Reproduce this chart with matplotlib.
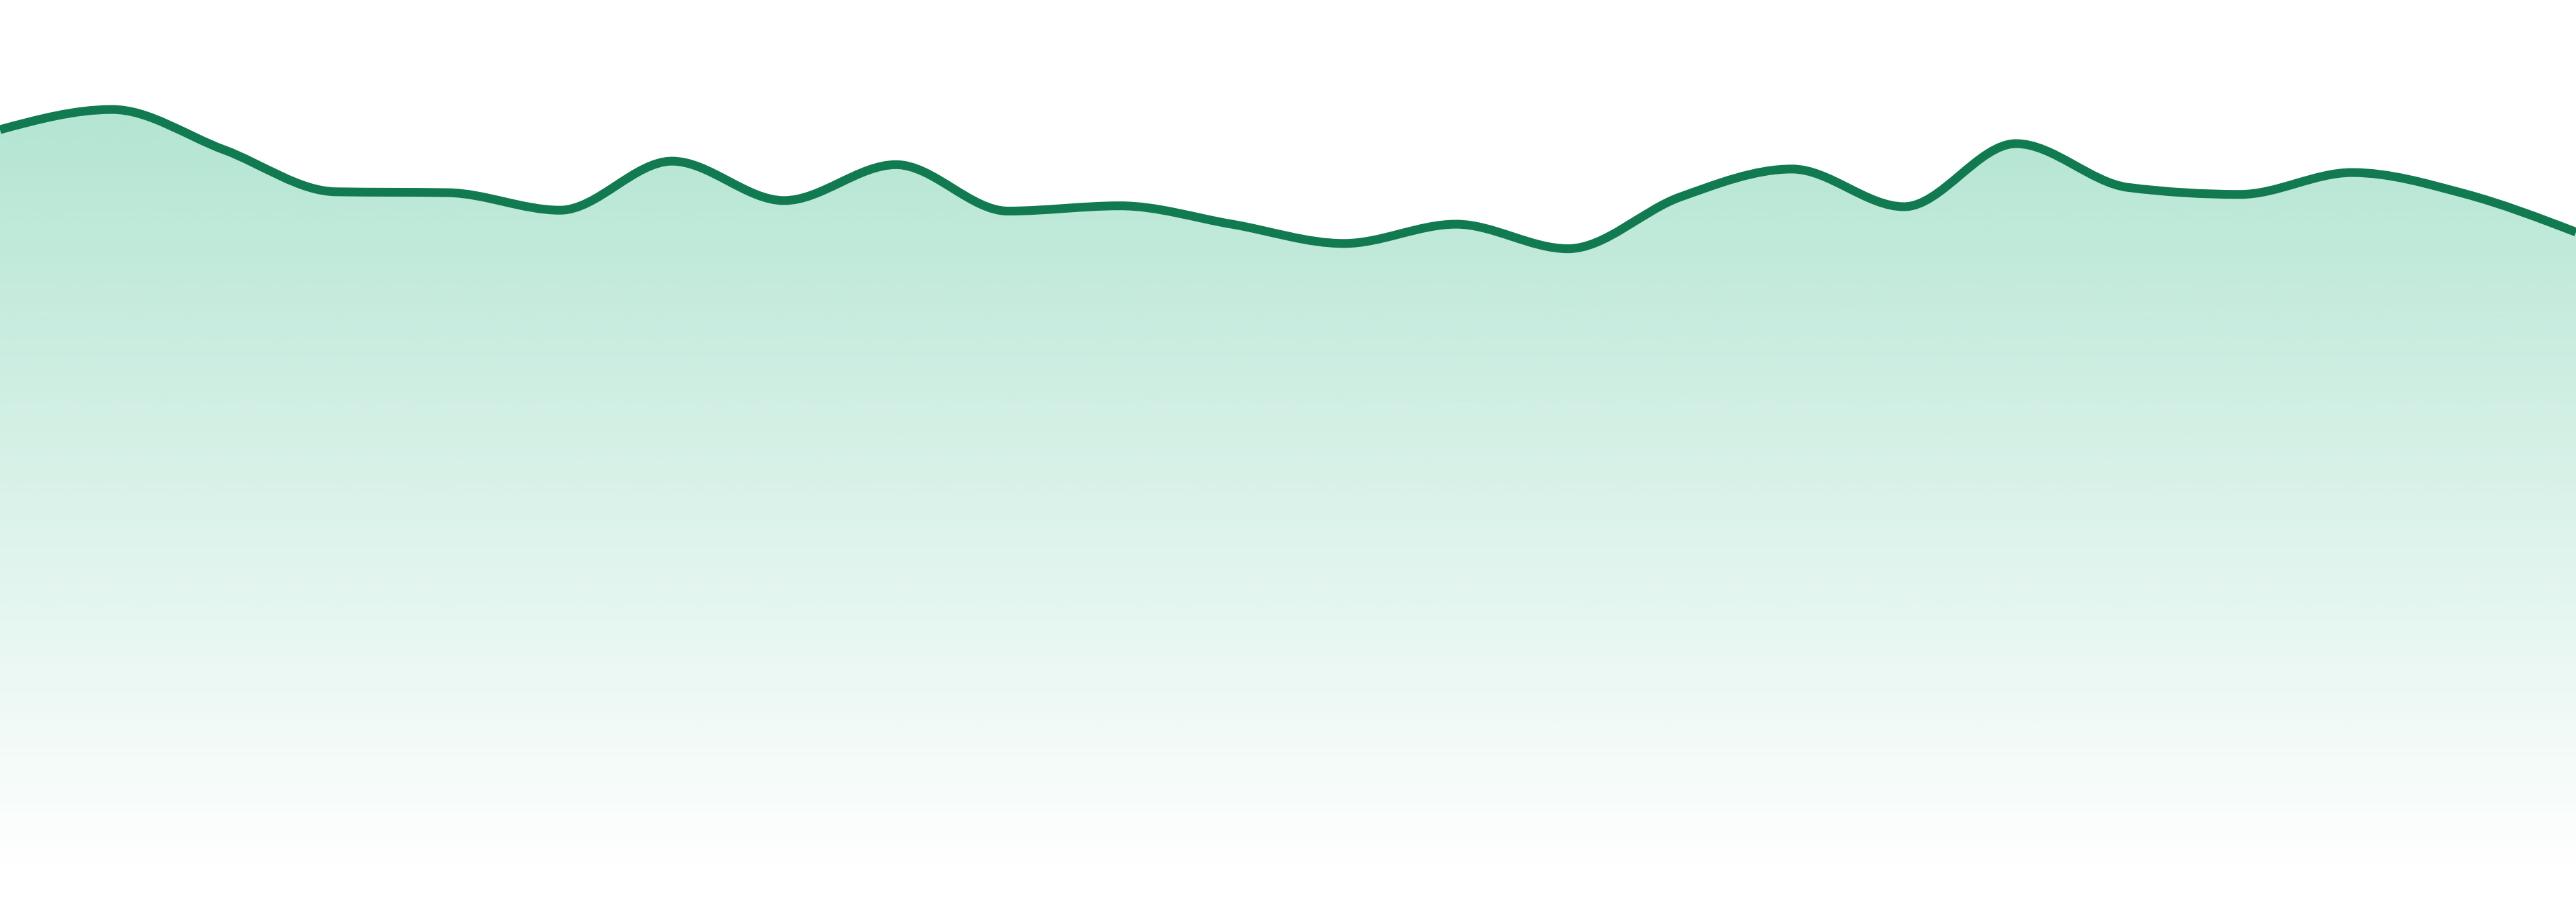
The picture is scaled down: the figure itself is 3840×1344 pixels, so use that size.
import numpy as np
import matplotlib
matplotlib.use("Agg")
import matplotlib.pyplot as plt
from matplotlib.path import Path
from matplotlib.patches import PathPatch

# ---- data ----
points = list(range(24))
values = [85.2, 87.5, 82.9, 78.1, 78.0, 76.0, 81.6, 77.1, 81.2, 75.9, 76.5, 74.4,
          72.2, 74.4, 71.6, 77.5, 80.7, 76.4, 83.6, 78.6, 77.8, 80.3, 77.9, 73.5]
y_limits = [0, 100]

# ---- style ----
line_color = "#117a50"
fill_rgb = (25 / 255, 176 / 255, 119 / 255)
fill_alpha_top = 0.33


def monotone_slopes(x, y):
    n = len(x)
    t = np.zeros(n)
    for i in range(1, n - 1):
        h0 = x[i] - x[i - 1]
        h1 = x[i + 1] - x[i]
        s0 = (y[i] - y[i - 1]) / h0
        s1 = (y[i + 1] - y[i]) / h1
        p = (s0 * h1 + s1 * h0) / (h0 + h1)
        t[i] = (np.sign(s0) + np.sign(s1)) * min(abs(s0), abs(s1), 0.5 * abs(p))
    h = x[1] - x[0]
    t[0] = (3 * (y[1] - y[0]) / h - t[1]) / 2
    h = x[-1] - x[-2]
    t[-1] = (3 * (y[-1] - y[-2]) / h - t[-2]) / 2
    return t


x = np.array(points, dtype=float)
y = np.array(values, dtype=float)
t = monotone_slopes(x, y)

verts = [(x[0], y[0])]
codes = [Path.MOVETO]
for i in range(len(x) - 1):
    dx = x[i + 1] - x[i]
    verts += [(x[i] + dx / 3, y[i] + dx * t[i] / 3),
              (x[i + 1] - dx / 3, y[i + 1] - dx * t[i + 1] / 3),
              (x[i + 1], y[i + 1])]
    codes += [Path.CURVE4] * 3

line_path = Path(verts, codes)
fill_verts = verts + [(x[-1], y_limits[0]), (x[0], y_limits[0]), (x[0], y[0])]
fill_codes = codes + [Path.LINETO, Path.LINETO, Path.CLOSEPOLY]
fill_path = Path(fill_verts, fill_codes)

fig = plt.figure(figsize=(38.4, 13.44), dpi=100)
ax = fig.add_axes([0, 39 / 1344, 1, 1 - 39 / 1344])
ax.set_axis_off()

top = max(values)
grad = np.zeros((512, 1, 4))
grad[:, 0, 0] = fill_rgb[0]
grad[:, 0, 1] = fill_rgb[1]
grad[:, 0, 2] = fill_rgb[2]
grad[:, 0, 3] = np.linspace(fill_alpha_top, 0.0, 512)
clip = PathPatch(fill_path, facecolor="none", edgecolor="none", transform=ax.transData)
ax.add_patch(clip)
im = ax.imshow(grad, extent=[x[0], x[-1], y_limits[0], top], origin="upper",
               aspect="auto", interpolation="bilinear", zorder=1)
im.set_clip_path(clip)

ax.add_patch(PathPatch(line_path, facecolor="none", edgecolor=line_color,
                       linewidth=9.4, capstyle="butt", joinstyle="round", zorder=3))

ax.set_xlim(x[0], x[-1])
ax.set_ylim(*y_limits)

fig.savefig("out.png", dpi=100, facecolor="white")
